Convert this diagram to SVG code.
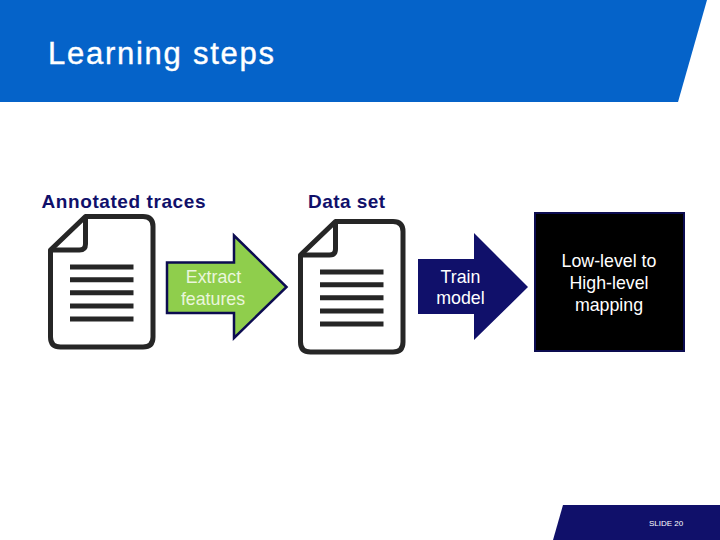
<svg xmlns="http://www.w3.org/2000/svg" width="720" height="540" viewBox="0 0 720 540">
  <style>
    text { font-family: "Liberation Sans", Arial, sans-serif; }
    .lbl { font-size: 19px; font-weight: 700; fill: #10106a; }
    .mid { font-size: 17.800px; text-anchor: middle; }
    .w { fill: #ffffff; }
    .doc { fill: #ffffff; stroke: #262626; stroke-width: 5; stroke-linejoin: round; }
    .fold { fill: none; stroke: #262626; stroke-width: 5; stroke-linejoin: round; }
    .ln { stroke: #262626; stroke-width: 5; }
  </style>
  <defs>
    <g id="docIcon">
      <path class="doc" d="M85.500 216.500H143Q153 216.500 153 226.500V337Q153 347 143 347H60.500Q50.500 347 50.500 337V250Z"/>
      <path class="fold" d="M85.500 216.500V244Q85.500 250 79.500 250H50.500"/>
      <path class="ln" d="M70 267H133.500M70 279.800H133.500M70 292.800H133.500M70 306H133.500M70 319H133.500"/>
    </g>
  </defs>
  <rect width="720" height="540" fill="#ffffff"/>
  <g id="header">
    <path d="M0 0H707L678 102H0Z" fill="#0563c9"/>
    <text x="48" y="64" font-size="31" font-weight="400" stroke="#ffffff" stroke-width="0.400" fill="#ffffff" textLength="226">Learning steps</text>
  </g>
  <g id="annotated-traces">
    <text class="lbl" x="41.500" y="208" textLength="164">Annotated traces</text>
    <use href="#docIcon"/>
  </g>
  <g id="data-set">
    <text class="lbl" x="308" y="208" textLength="77">Data set</text>
    <use href="#docIcon" x="250" y="5"/>
  </g>
  <g id="connectors">
    <g id="extract-features">
      <path d="M167 262.500H234V235.500L286.500 287L234 338V313H167Z" fill="#8fce4c" stroke="#0c0c50" stroke-width="2.500"/>
      <text class="mid" fill="#eaf6dc" x="213.500" y="282.500">Extract</text>
      <text class="mid" fill="#eaf6dc" x="213" y="304.500">features</text>
    </g>
    <g id="train-model">
      <path d="M418 259H474V233L528 287L474 340V314H418Z" fill="#10106a"/>
      <text class="mid w" x="460.500" y="282.500">Train</text>
      <text class="mid w" x="460.500" y="303.500">model</text>
    </g>
  </g>
  <g id="mapping">
    <rect x="535" y="213" width="149" height="138" fill="#000000" stroke="#0c0c50" stroke-width="2"/>
    <text class="mid w" x="609" y="266.500">Low-level to</text>
    <text class="mid w" x="609" y="289">High-level</text>
    <text class="mid w" x="609" y="310.500">mapping</text>
  </g>
  <g id="footer">
    <path d="M563 505H720V540H553Z" fill="#10106a"/>
    <text x="649" y="526" font-size="8" fill="#ffffff">SLIDE 20</text>
  </g>
</svg>
